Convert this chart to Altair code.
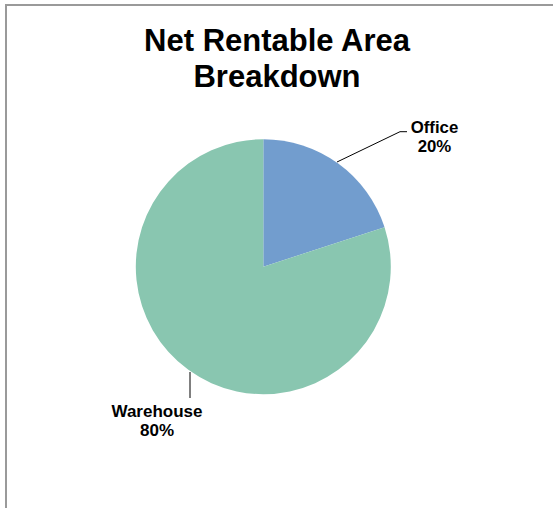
import altair as alt
import pandas as pd

categories = ["Office", "Warehouse"]
values = [20, 80]
colors = ["#729DCE", "#89C6B0"]
title_lines = ["Net Rentable Area", "Breakdown"]

df = pd.DataFrame({"category": categories, "value": values, "order": [0, 1]})
FONT = "Liberation Sans"

base = alt.Chart(df)

pie = base.mark_arc(radius=127.5).encode(
    theta=alt.Theta("value:Q", stack=True),
    color=alt.Color("category:N", scale=alt.Scale(domain=categories, range=colors), legend=None),
    order=alt.Order("order:Q"),
    x=alt.value(263.3),
    y=alt.value(266.7),
)

lbl = base.transform_joinaggregate(total="sum(value)").transform_calculate(
    label="[datum.category, format(datum.value / datum.total, '.0%')]"
)

office_lbl = lbl.transform_filter(alt.datum.category == "Office").mark_text(
    font=FONT, fontWeight="bold", fontSize=16.8, align="center", baseline="alphabetic",
    lineHeight=19, color="black"
).encode(text="label:N", x=alt.value(434.5), y=alt.value(132.7))

wh_lbl = lbl.transform_filter(alt.datum.category == "Warehouse").mark_text(
    font=FONT, fontWeight="bold", fontSize=17, align="center", baseline="alphabetic",
    lineHeight=19.5, color="black"
).encode(text="label:N", x=alt.value(157), y=alt.value(416.7))

title = alt.Chart(pd.DataFrame({"t": [title_lines]})).mark_text(
    font=FONT, fontWeight="bold", fontSize=31, align="center", baseline="alphabetic",
    lineHeight=35.5, color="black"
).encode(text="t", x=alt.value(277), y=alt.value(51.3))

def rule(x, y, x2, y2, color="black", w=1):
    return alt.Chart(df.head(1)).mark_rule(color=color, strokeWidth=w).encode(
        x=alt.value(x), y=alt.value(y), x2=alt.value(x2), y2=alt.value(y2)
    )

leaders = [
    rule(337, 162, 400, 131.7),
    rule(400, 131.7, 407, 131.7),
    rule(190, 372, 190, 398),
]
frame = [
    rule(5, 5, 560, 5, color="#9a9a9a", w=2),
    rule(6, 4, 6, 520, color="#9a9a9a", w=2),
]

chart = alt.layer(*frame, pie, *leaders, office_lbl, wh_lbl, title).properties(
    width=553, height=508, autosize=alt.AutoSizeParams(type="none"), padding=0,
    background="white"
).configure_view(stroke=None)

chart.save("out.html", embed_options={"renderer": "svg", "actions": False})
